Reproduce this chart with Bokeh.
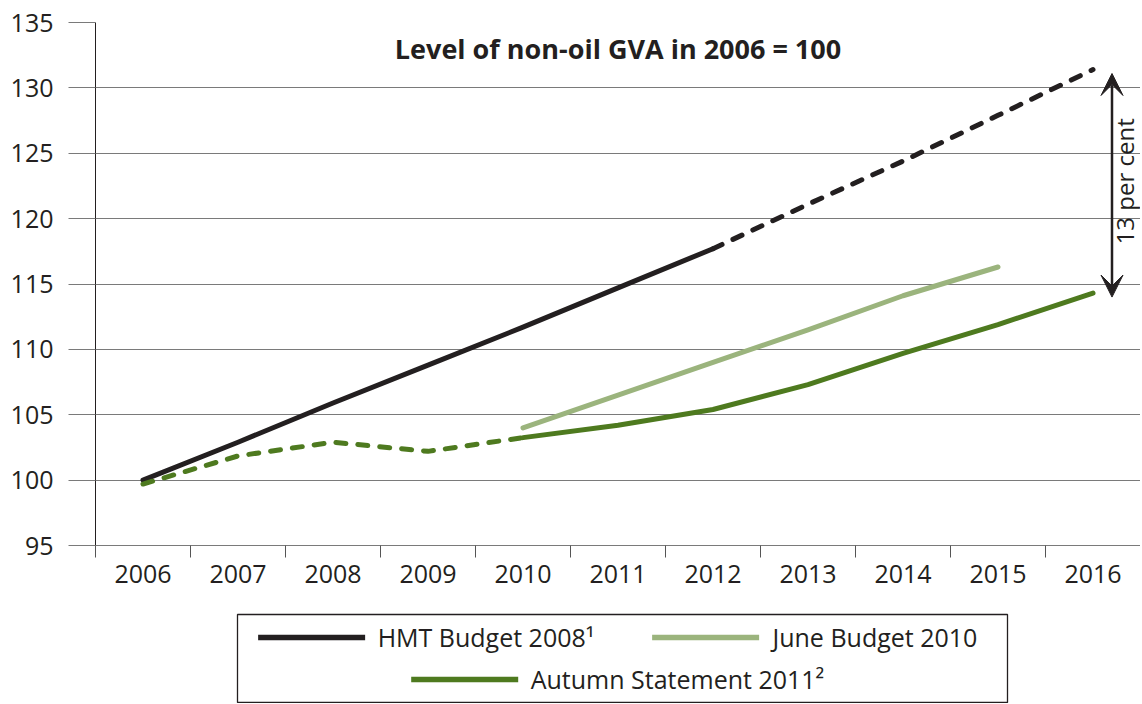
from bokeh.plotting import figure
from bokeh.models import Range1d, FixedTicker, Label, Arrow, VeeHead, Legend, LegendItem, BoxAnnotation
from bokeh.layouts import column
from bokeh.embed import file_html
from bokeh.resources import INLINE

FONT = "Open Sans"
TEXT = "#231f20"
GRID = "#7a7a7a"

# ---------------- data ----------------
years = [2006, 2007, 2008, 2009, 2010, 2011, 2012, 2013, 2014, 2015, 2016]
hmt_budget_2008 = [100.0, 102.9, 105.9, 108.8, 111.7, 114.7, 117.7, 121.1, 124.4, 127.9, 131.4]
june_budget_2010 = [None, None, None, None, 104.0, 106.5, 109.0, 111.5, 114.1, 116.3, None]
autumn_statement_2011 = [99.7, 101.85, 102.9, 102.2, 103.25, 104.2, 105.4, 107.3, 109.7, 111.9, 114.3]
series_names = ["HMT Budget 2008\u00b9", "June Budget 2010", "Autumn Statement 2011\u00b2"]
y_ticks = [95, 100, 105, 110, 115, 120, 125, 130, 135]
title_text = "Level of non-oil GVA in 2006 = 100"
gap_label = "13 per cent"
hmt_projection_from = 2012     # HMT line dashed from this year
autumn_outturn_to = 2010       # Autumn line dashed up to this year

colors = ["#231f20", "#9bb47d", "#4e7a1f"]

BORDER_L, BORDER_R = 95, 0
W = 1140
H1 = 605
LH = 98

# ---------------- main chart ----------------
p = figure(width=W, height=H1,
           x_range=Range1d(years[0] - 0.5, years[-1] + 0.5),
           y_range=Range1d(y_ticks[0], y_ticks[-1]),
           output_backend="svg", toolbar_location=None,
           min_border_left=BORDER_L, min_border_right=BORDER_R,
           min_border_top=22, min_border_bottom=H1 - 545)
p.outline_line_color = None
p.background_fill_color = "white"
p.xgrid.grid_line_color = None
p.ygrid.grid_line_color = GRID
p.ygrid.grid_line_width = 1

p.yaxis.ticker = FixedTicker(ticks=y_ticks)
p.yaxis.major_tick_out = 27
p.yaxis.major_tick_in = 0
p.yaxis.minor_tick_out = 0
p.yaxis.minor_tick_in = 0
p.yaxis.major_tick_line_color = GRID
p.yaxis.axis_line_color = TEXT
p.yaxis.major_label_standoff = 15

boundaries = [y - 0.5 for y in years] + [years[-1] + 0.5]
p.xaxis.ticker = FixedTicker(ticks=years, minor_ticks=boundaries)
p.xaxis.major_tick_out = 0
p.xaxis.major_tick_in = 0
p.xaxis.minor_tick_out = 12
p.xaxis.minor_tick_in = 0
p.xaxis.minor_tick_line_color = "#555555"
p.xaxis.axis_line_color = GRID
p.xaxis.major_label_standoff = 7

for ax in (p.xaxis, p.yaxis):
    ax.major_label_text_font = FONT
    ax.major_label_text_font_size = "25px"
    ax.major_label_text_color = TEXT

common = dict(line_width=5, line_cap="round", line_join="round")
DASH = "10 12"

# HMT Budget 2008: solid outturn, dashed projection
i = years.index(hmt_projection_from)
p.line(years[:i + 1], hmt_budget_2008[:i + 1], line_color=colors[0], **common)
p.line(years[i:], hmt_budget_2008[i:], line_color=colors[0], line_dash=DASH, **common)

# June Budget 2010
jx = [y for y, v in zip(years, june_budget_2010) if v is not None]
jy = [v for v in june_budget_2010 if v is not None]
p.line(jx, jy, line_color=colors[1], **common)

# Autumn Statement 2011: dashed outturn, solid forecast
k = years.index(autumn_outturn_to)
p.line(years[:k + 1], autumn_statement_2011[:k + 1], line_color=colors[2], line_dash=DASH, **common)
p.line(years[k:], autumn_statement_2011[k:], line_color=colors[2], **common)

# Title inside plot
p.add_layout(Label(x=(years[0] + years[-1]) / 2, y=133.0, text=title_text,
                   text_align="center", text_baseline="middle",
                   text_font=FONT, text_font_style="bold", text_font_size="27px",
                   text_color=TEXT))

# Gap arrow between the two 2016 projections
ax_x = years[-1] + 0.2
p.add_layout(Arrow(start=VeeHead(size=22, fill_color=TEXT, line_color=TEXT),
                   end=VeeHead(size=22, fill_color=TEXT, line_color=TEXT),
                   x_start=ax_x, y_start=autumn_statement_2011[-1] - 0.3,
                   x_end=ax_x, y_end=hmt_budget_2008[-1] - 0.3,
                   line_color=TEXT, line_width=2.5))
p.add_layout(Label(x=years[-1] + 0.33, y=(hmt_budget_2008[-1] + autumn_statement_2011[-1]) / 2,
                   text=gap_label, angle=1.5707963, text_align="center", text_baseline="middle",
                   text_font=FONT, text_font_size="24px", text_color=TEXT))

# ---------------- legend panel ----------------
lg = figure(width=W, height=LH, x_range=Range1d(0, 1), y_range=Range1d(0, LH),
            x_axis_type=None, y_axis_type=None,
            output_backend="svg", toolbar_location=None,
            min_border_left=BORDER_L, min_border_right=BORDER_R,
            min_border_top=0, min_border_bottom=0)
lg.grid.visible = False
lg.outline_line_color = None

# legend frame box (page x 237..1007, y 614..702)
frame_w = W - BORDER_L - BORDER_R
lg.add_layout(BoxAnnotation(left=(237 - BORDER_L) / frame_w, right=(1007 - BORDER_L) / frame_w,
                            bottom=1, top=LH - (614 - H1), fill_alpha=0,
                            line_color=TEXT, line_alpha=1.0, line_width=1.3))

# hidden sample renderers, used only for the legend glyphs
legend_line = dict(common, line_width=5.5)
rs = [lg.line([-2, -1], [-10, -10], line_color=c, **legend_line) for c in colors]

leg_style = dict(orientation="horizontal", glyph_width=107, glyph_height=28,
                 label_standoff=13, spacing=58, padding=0,
                 border_line_color=None, background_fill_alpha=0,
                 label_text_font=FONT, label_text_font_size="25px", label_text_color=TEXT)
legA = Legend(items=[LegendItem(label=series_names[0], renderers=[rs[0]]),
                     LegendItem(label=series_names[1], renderers=[rs[1]])],
              location="top_center", margin=15, **leg_style)
legB = Legend(items=[LegendItem(label=series_names[2], renderers=[rs[2]])],
              location="bottom_center", margin=7, **leg_style)
lg.add_layout(legA)
lg.add_layout(legB)

layout = column(p, lg, spacing=0)
open("out.html", "w").write(file_html(layout, INLINE))
